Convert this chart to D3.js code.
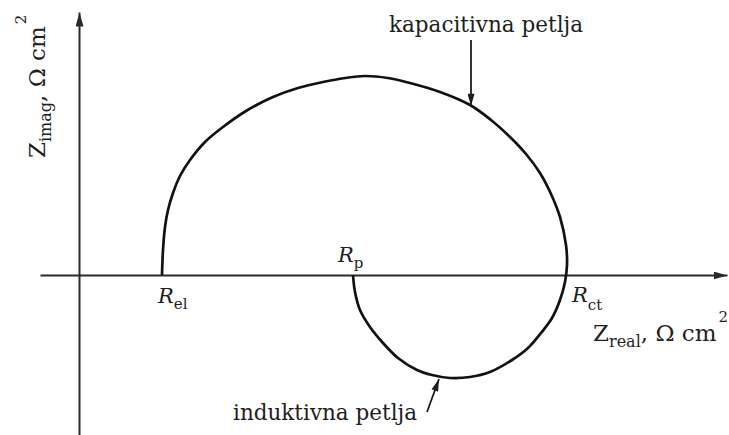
<!DOCTYPE html>
<html>
<head>
<meta charset="utf-8">
<script src="https://cdn.jsdelivr.net/npm/d3@7"></script>
<style>
  body { margin: 0; background: #fff; }
  svg { display: block; }
</style>
</head>
<body>
<svg id="chart"></svg>
<script>
// Nyquist plot (arbitrary units, origin at the axes crossing)
const zReal = [83, 84, 86, 89, 94, 101, 111, 126, 144, 167, 194, 219, 244, 266, 286,
               309, 331, 361, 391, 412, 431, 447, 461, 472, 481, 487, 488,
               486, 481, 473, 462, 449, 433, 411, 391, 371, 353, 338, 319, 304, 291, 281, 276, 274];
const zImag = [0, 25, 48, 65, 82, 99, 115, 133, 148, 164, 178, 187, 193, 197, 199,
               197, 192, 183, 170, 155, 138, 121, 102, 81, 58, 30, 10,
               -7, -25, -43, -58, -73, -85, -97, -102, -103, -100, -95, -83, -68, -52, -35, -17, 0];

// characteristic resistances on the real axis
const resNames = ['el', 'p', 'ct'];
const resValues = [83, 274, 487];

const loopLabels = ['kapacitivna petlja', 'induktivna petlja'];

const width = 729, height = 435;
const serif = "'DejaVu Serif', 'Liberation Serif', serif";
const ink = '#1e1e1e';

const svg = d3.select('#chart')
  .attr('width', width)
  .attr('height', height);

const x = d3.scaleLinear().domain([-39, 648]).range([40, 727]);
const y = d3.scaleLinear().domain([-160, 263]).range([435, 12]);

const defs = svg.append('defs');
defs.append('marker')
  .attr('id', 'axisHead')
  .attr('viewBox', '0 -4 14 8')
  .attr('refX', 14)
  .attr('refY', 0)
  .attr('markerUnits', 'userSpaceOnUse')
  .attr('markerWidth', 14)
  .attr('markerHeight', 8)
  .attr('orient', 'auto')
  .append('path')
  .attr('d', 'M0,-4L14,0L0,4Z')
  .attr('fill', '#2a2a2a');

defs.append('marker')
  .attr('id', 'noteHead')
  .attr('viewBox', '0 -4 14 8')
  .attr('refX', 14)
  .attr('refY', 0)
  .attr('markerUnits', 'userSpaceOnUse')
  .attr('markerWidth', 13)
  .attr('markerHeight', 7)
  .attr('orient', 'auto')
  .append('path')
  .attr('d', 'M0,-4L14,0L0,4Z')
  .attr('fill', ink);

// axes: plain lines with arrows, no ticks
const xAxis = svg.append('g')
  .attr('transform', `translate(0,${y(0)})`)
  .call(d3.axisBottom(x).tickValues([]).tickSizeOuter(0));

const yAxis = svg.append('g')
  .attr('transform', `translate(${x(0)},0)`)
  .call(d3.axisLeft(y).tickValues([]).tickSizeOuter(0));

[xAxis, yAxis].forEach(g => {
  g.select('.domain')
    .attr('stroke', '#2a2a2a')
    .attr('stroke-width', 2)
    .attr('marker-end', 'url(#axisHead)');
});

// the impedance curve
const pts = zReal.map((v, i) => [v, zImag[i]]);
const line = d3.line()
  .x(d => x(d[0]))
  .y(d => y(d[1]))
  .curve(d3.curveCatmullRom.alpha(0.5));

svg.append('path')
  .datum(pts)
  .attr('d', line)
  .attr('fill', 'none')
  .attr('stroke', '#111')
  .attr('stroke-width', 2.7)
  .attr('stroke-linejoin', 'round');

const label = (px, py, size) => svg.append('text')
  .attr('x', px)
  .attr('y', py)
  .style('font-family', serif)
  .attr('font-size', size)
  .attr('fill', ink);

// R labels
const rOffsets = [[-4, 28, 6], [-15, -13, 6], [6, 27, 8]];
resNames.forEach((n, i) => {
  const [dx, dy, sub] = rOffsets[i];
  const t = label(x(resValues[i]) + dx, y(0) + dy, 21);
  t.append('tspan').attr('font-style', 'italic').text('R');
  t.append('tspan').attr('font-size', 15).attr('dy', sub).text(n);
});

// axis titles
const xt = label(593, 341, 23);
xt.append('tspan').text('Z');
xt.append('tspan').attr('font-size', 16).attr('dy', 6).text('real');
xt.append('tspan').attr('dy', -6).text(', Ω cm');
xt.append('tspan').attr('font-size', 15).attr('dy', -19).attr('dx', 2).text('2');

const yt = label(0, 0, 23)
  .attr('transform', 'translate(45,158) rotate(-90)');
yt.append('tspan').text('Z');
yt.append('tspan').attr('font-size', 16).attr('dy', 6).text('imag');
yt.append('tspan').attr('dy', -6).text(', Ω cm');
yt.append('tspan').attr('font-size', 15).attr('dy', -19).attr('dx', 2).text('2');

// loop annotations
label(389, 32, 21.5).text(loopLabels[0]);

svg.append('line')
  .attr('x1', x(392)).attr('y1', y(235))
  .attr('x2', x(392)).attr('y2', y(169))
  .attr('stroke', ink)
  .attr('stroke-width', 1.8)
  .attr('marker-end', 'url(#noteHead)');

label(233, 420, 21.5).text(loopLabels[1]);

svg.append('line')
  .attr('x1', x(348)).attr('y1', y(-137))
  .attr('x2', x(360)).attr('y2', y(-104))
  .attr('stroke', ink)
  .attr('stroke-width', 1.8)
  .attr('marker-end', 'url(#noteHead)');
</script>
</body>
</html>
